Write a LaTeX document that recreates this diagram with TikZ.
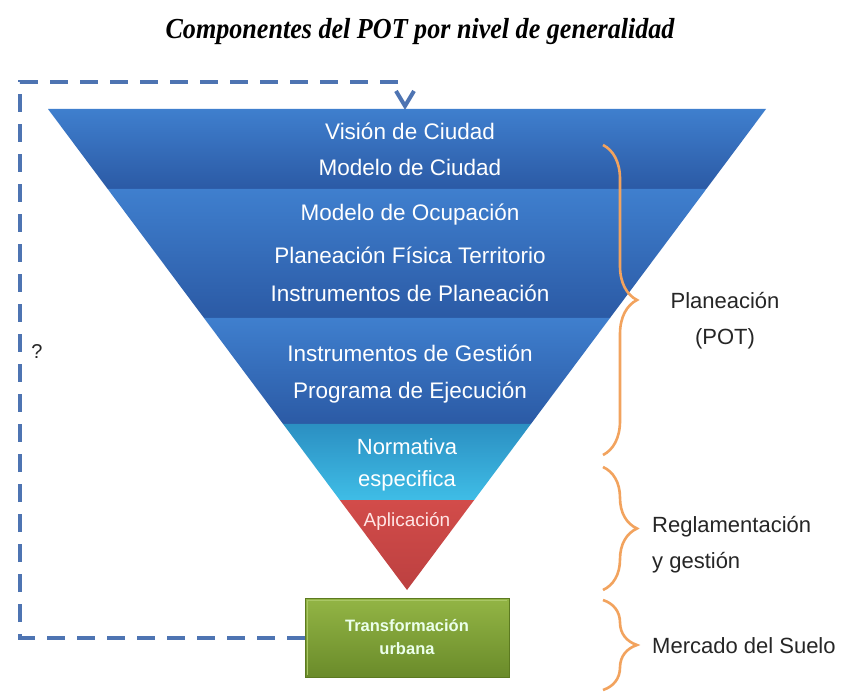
\documentclass[tikz,border=0pt]{standalone}
\usepackage{fontspec}
\setmainfont{Liberation Sans}
\newfontfamily\titlefont{Liberation Serif}
\usetikzlibrary{decorations.pathreplacing,arrows.meta}
\definecolor{bandtop}{HTML}{3F7FCE}
\definecolor{bandbot}{HTML}{2B5AA5}
\definecolor{cyantop}{HTML}{2B8FC2}
\definecolor{cyanbot}{HTML}{3FBDE6}
\definecolor{redtop}{HTML}{D24C4A}
\definecolor{redbot}{HTML}{BC4040}
\definecolor{greentop}{HTML}{93B545}
\definecolor{greenbot}{HTML}{6A8B2A}
\definecolor{greenedge}{HTML}{5C7A20}
\definecolor{greenlight}{HTML}{A9C765}
\definecolor{dashblue}{HTML}{4E74B2}
\definecolor{braceor}{HTML}{F2A35E}
\definecolor{labelgray}{HTML}{262626}
\tikzset{
  bandtext/.style={text=white, font=\fontsize{22.5}{26}\selectfont, inner sep=0pt},
  sidelabel/.style={text=labelgray, font=\fontsize{22}{36}\selectfont, inner sep=0pt, align=left},
  bracestyle/.style={draw=braceor, line width=2.6pt, decorate, decoration={brace, amplitude=34pt}},
  dashlink/.style={draw=dashblue, line width=4pt, dash pattern=on 18pt off 12pt},
  boxstyle/.style={draw=greenedge, line width=1pt, top color=greentop, bottom color=greenbot,
    minimum width=204pt, minimum height=79pt, inner sep=0pt, align=center,
    text=white!92!green, font=\bfseries\fontsize{16.5}{23}\selectfont}
}
\begin{document}
\begin{tikzpicture}[x=1pt,y=-1pt]
\useasboundingbox[fill=white] (0,0) rectangle (841,692);
% title
\node[font=\titlefont\bfseries\itshape\fontsize{29}{32}\selectfont, inner sep=0pt] (title) at (420,32)
  {\scalebox{0.9}[1]{Componentes del POT por nivel de generalidad}};
% bands of the inverted triangle
\shade[top color=bandtop, bottom color=bandbot] (48,109) -- (766,109) -- (706.3,189) -- (107.7,189) -- cycle;
\shade[top color=bandtop, bottom color=bandbot] (107.7,189) -- (706.3,189) -- (610,318) -- (204,318) -- cycle;
\shade[top color=bandtop, bottom color=bandbot] (204,318) -- (610,318) -- (530.9,424) -- (283.1,424) -- cycle;
\shade[top color=cyantop, bottom color=cyanbot] (283.1,424) -- (530.9,424) -- (474.2,500) -- (339.8,500) -- cycle;
\shade[top color=redtop, bottom color=redbot] (339.8,500) -- (474.2,500) -- (407,590) -- cycle;
% band texts
\node[bandtext] (t1) at (410,131) {Visión de Ciudad};
\node[bandtext] (t2) at (410,167) {Modelo de Ciudad};
\node[bandtext] (t3) at (410,215) {Modelo de Ocupación};
\node[bandtext] (t4) at (410,255) {Planeación Física Territorio};
\node[bandtext] (t5) at (410,293) {Instrumentos de Planeación};
\node[bandtext] (t6) at (410,353) {Instrumentos de Gestión};
\node[bandtext] (t7) at (410,393) {Programa de Ejecución};
\node[bandtext, font=\fontsize{22}{26}\selectfont] (t8) at (407,447) {Normativa};
\node[bandtext, font=\fontsize{22}{26}\selectfont] (t9) at (407,481) {especifica};
\node[bandtext, font=\fontsize{19}{22}\selectfont, text=white!90!red] (t10) at (407,521) {Aplicación};
% green box
\node[boxstyle] (box) at (407,637.5) {Transformación\\urbana};
\draw[greenlight, line width=1.5pt] ([shift={(3,-3)}]box.south west) -- ([shift={(3,3)}]box.north west) -- ([shift={(-3,3)}]box.north east);
% feedback dashed connector
\coordinate (loopBL) at (20,637.5);
\coordinate (loopTL) at (20,82);
\coordinate (loopTR) at (405,82);
\draw[dashlink] (box.west) -- (loopBL) -- (loopTL) -- (loopTR);
\coordinate (chevtip) at (405,106);
\draw[draw=dashblue, line width=4pt, line join=miter] (396,91) -- (chevtip) -- (414,91);
\node[text=labelgray, font=\fontsize{20}{24}\selectfont, inner sep=0pt] (q) at (37,352) {?};
% braces
\draw[bracestyle] (603,145) -- (603,455);
\draw[bracestyle] (603,467) -- (603,590);
\draw[bracestyle] (603,600) -- (603,690);
% side labels
\node[sidelabel, align=center] (lab1) at (725,321) {Planeación\\(POT)};
\node[sidelabel, anchor=west] (lab2) at (652,545) {Reglamentación\\y gestión};
\node[sidelabel, anchor=west] (lab3) at (652,646) {Mercado del Suelo};
\end{tikzpicture}
\end{document}
